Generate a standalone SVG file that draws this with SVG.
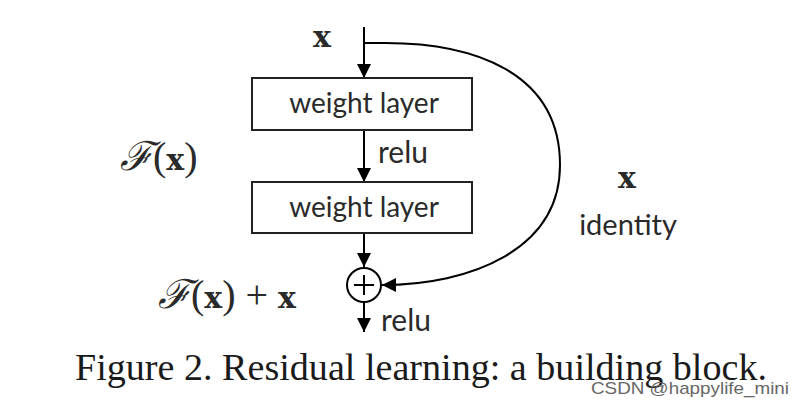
<svg xmlns="http://www.w3.org/2000/svg" width="801" height="404" viewBox="0 0 801 404">
<defs>
<marker id="ah" viewBox="0 0 14 14" refX="14" refY="7" markerWidth="14" markerHeight="14" markerUnits="userSpaceOnUse" orient="auto">
<path d="M0,0 L14,7 L0,14 z" fill="#000"/>
</marker>
<style>
.box{fill:#fff;stroke:#222;stroke-width:2}
.ln{fill:none;stroke:#000;stroke-width:2}
.sans{font-family:"Lato","Open Sans","Liberation Sans",sans-serif;fill:#2a2a2a}
.math{font-family:"Liberation Serif","DejaVu Serif",serif;fill:#2a2a2a}
.bx{font-family:"DejaVu Serif","Liberation Serif",serif;font-weight:bold;fill:#2a2a2a}
</style>
</defs>
<rect width="801" height="404" fill="#fff"/>
<g id="connectors">
<line class="ln" x1="364" y1="27" x2="364" y2="78" marker-end="url(#ah)"/>
<line class="ln" x1="364" y1="130" x2="364" y2="182" marker-end="url(#ah)"/>
<line class="ln" x1="364" y1="233" x2="364" y2="267" marker-end="url(#ah)"/>
<line class="ln" x1="364" y1="302" x2="364" y2="332" marker-end="url(#ah)"/>
<path class="ln" d="M364,43 L385,43 C470,43 560,70 560,165 C560,250 470,285 382,285" marker-end="url(#ah)"/>
</g>
<g id="input">
<text class="bx" x="322" y="47" font-size="30" text-anchor="middle">x</text>
</g>
<g id="layer1">
<rect class="box" x="252" y="78" width="220" height="52"/>
<text class="sans" x="364" y="113" font-size="28" text-anchor="middle">weight layer</text>
</g>
<g id="relu1">
<text class="sans" x="378" y="163" font-size="30">relu</text>
</g>
<g id="layer2">
<rect class="box" x="252" y="182" width="220" height="51"/>
<text class="sans" x="364" y="217" font-size="28" text-anchor="middle">weight layer</text>
</g>
<g id="fx">
<text x="120" y="170" font-size="40"><tspan class="math" font-style="italic">ℱ</tspan><tspan class="math">(</tspan><tspan class="bx" font-size="30">x</tspan><tspan class="math">)</tspan></text>
</g>
<g id="sum">
<circle cx="364" cy="285" r="17" fill="#fff" stroke="#000" stroke-width="2"/>
<line x1="354" y1="285" x2="374" y2="285" stroke="#000" stroke-width="2"/>
<line x1="364" y1="275" x2="364" y2="295" stroke="#000" stroke-width="2"/>
</g>
<g id="fxplusx">
<text x="158" y="308" font-size="40"><tspan class="math" font-style="italic">ℱ</tspan><tspan class="math">(</tspan><tspan class="bx" font-size="30">x</tspan><tspan class="math">) + </tspan><tspan class="bx" font-size="30">x</tspan></text>
</g>
<g id="relu2">
<text class="sans" x="381" y="331" font-size="30">relu</text>
</g>
<g id="identity">
<text class="bx" x="627" y="188" font-size="30" text-anchor="middle">x</text>
<text class="sans" x="628" y="235" font-size="29" text-anchor="middle">identity</text>
</g>
<g id="caption">
<text x="75" y="380" font-family="'Liberation Serif',serif" font-size="37" fill="#1a1a1a" textLength="692" lengthAdjust="spacingAndGlyphs">Figure 2. Residual learning: a building block.</text>
<text x="591" y="394" font-family="'Liberation Sans',sans-serif" font-size="17" fill="#666" textLength="198" lengthAdjust="spacingAndGlyphs">CSDN @happylife_mini</text>
</g>
</svg>
